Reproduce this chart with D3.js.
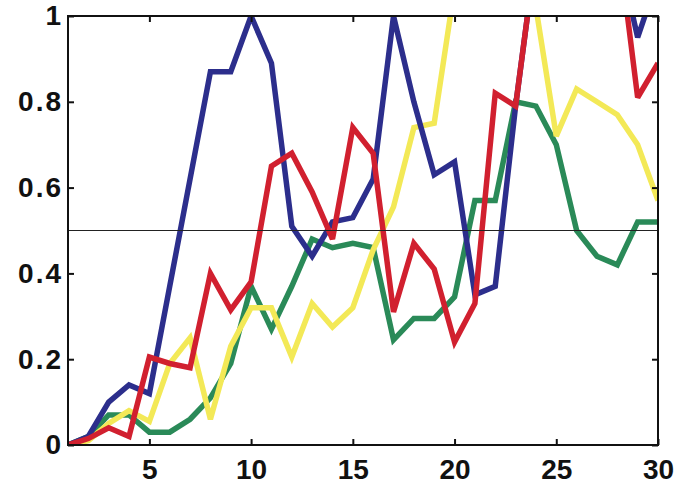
<!DOCTYPE html>
<html>
<head>
<meta charset="utf-8">
<script src="https://cdn.jsdelivr.net/npm/d3@7"></script>
<style>
  body { margin: 0; background: #fff; }
  text { font-family: "Liberation Sans", Arial, sans-serif; font-weight: bold; }
</style>
</head>
<body>
<div id="chart"></div>
<script>
// data
const steps = [1, 2, 3, 4, 5, 6, 7, 8, 9, 10, 11, 12, 13, 14, 15, 16, 17, 18, 19, 20, 21, 22, 23, 24, 25, 26, 27, 28, 29, 30];
const blueVals = [0, 0.02, 0.10, 0.14, 0.12, 0.37, 0.62, 0.87, 0.87, 1.0, 0.89, 0.51, 0.44, 0.52, 0.53, 0.62, 1.0, 0.80, 0.63, 0.66, 0.35, 0.37, 0.79, 1.15, 1.25, 1.25, 1.2, 1.16, 0.95, 1.09];
const redVals = [0, 0.015, 0.04, 0.02, 0.205, 0.19, 0.18, 0.40, 0.315, 0.38, 0.65, 0.68, 0.59, 0.48, 0.74, 0.68, 0.31, 0.47, 0.41, 0.24, 0.33, 0.82, 0.79, 1.15, 1.25, 1.25, 1.2, 1.19, 0.81, 0.89];
const greenVals = [0, 0.02, 0.07, 0.07, 0.03, 0.03, 0.06, 0.11, 0.19, 0.37, 0.27, 0.37, 0.48, 0.46, 0.47, 0.46, 0.245, 0.295, 0.295, 0.345, 0.57, 0.57, 0.80, 0.79, 0.70, 0.50, 0.44, 0.42, 0.52, 0.52];
const yellowVals = [0, 0.01, 0.05, 0.08, 0.055, 0.19, 0.25, 0.06, 0.23, 0.32, 0.32, 0.205, 0.33, 0.275, 0.32, 0.455, 0.555, 0.74, 0.75, 1.065, 1.2, 1.2, 1.1, 1.02, 0.72, 0.83, 0.80, 0.77, 0.70, 0.57];

const xTicks = [5, 10, 15, 20, 25, 30];
const xLabels = ["5", "10", "15", "20", "25", "30"];
const yTicks = [0, 0.2, 0.4, 0.6, 0.8, 1];
const yLabels = ["0", "0.2", "0.4", "0.6", "0.8", "1"];
const refLevel = 0.5;

const series = [
  {name: "green", values: greenVals, color: "#2a8a58"},
  {name: "yellow", values: yellowVals, color: "#f3e957"},
  {name: "blue", values: blueVals, color: "#2c2e8c"},
  {name: "red", values: redVals, color: "#d1202f"}
];

// set the dimensions and margins of the graph
const margin = {top: 16, right: 36, bottom: 43, left: 68},
  width = 694 - margin.left - margin.right,
  height = 488 - margin.top - margin.bottom;

const svg = d3.select("#chart")
  .append("svg")
  .attr("width", width + margin.left + margin.right)
  .attr("height", height + margin.top + margin.bottom)
  .append("g")
  .attr("transform", `translate(${margin.left}, ${margin.top})`);

const x = d3.scaleLinear().domain([1, 30]).range([0, width]);
const y = d3.scaleLinear().domain([0, 1]).range([height, 0]);

svg.append("clipPath")
  .attr("id", "plot-clip")
  .append("rect")
  .attr("width", width)
  .attr("height", height);

// lines
const line = d3.line()
  .x((d, i) => x(steps[i]))
  .y(d => y(d));

svg.append("g")
  .attr("clip-path", "url(#plot-clip)")
  .selectAll("path")
  .data(series)
  .join("path")
    .attr("d", d => line(d.values))
    .attr("fill", "none")
    .attr("stroke", d => d.color)
    .attr("stroke-width", 5.5)
    .attr("stroke-linejoin", "miter")
    .attr("stroke-miterlimit", 3);

// reference line at 0.5
svg.append("line")
  .attr("x1", 0)
  .attr("x2", width)
  .attr("y1", y(refLevel))
  .attr("y2", y(refLevel))
  .attr("stroke", "#222")
  .attr("stroke-width", 1.2);

// axes
const yAxis = svg.append("g")
  .call(d3.axisLeft(y).tickValues(yTicks).tickFormat((d, i) => yLabels[i])
    .tickSizeInner(-6).tickSizeOuter(0).tickPadding(5));
yAxis.selectAll("text")
  .style("font-size", "28px")
  .style("letter-spacing", "2px")
  .attr("fill", "#111");

const xAxis = svg.append("g")
  .attr("transform", `translate(0, ${height})`)
  .call(d3.axisBottom(x).tickValues(xTicks).tickFormat((d, i) => xLabels[i])
    .tickSizeInner(-6).tickSizeOuter(0).tickPadding(14));
xAxis.selectAll("text").style("font-size", "28px").attr("fill", "#111");

svg.append("g")
  .attr("transform", `translate(${width}, 0)`)
  .call(d3.axisRight(y).tickValues(yTicks).tickFormat("").tickSizeInner(-6).tickSizeOuter(0));

svg.append("g")
  .call(d3.axisTop(x).tickValues(xTicks).tickFormat("").tickSizeInner(-6).tickSizeOuter(0));

svg.selectAll(".domain").remove();
svg.selectAll(".tick line").attr("stroke", "#111").attr("stroke-width", 2);

// frame
svg.append("rect")
  .attr("width", width)
  .attr("height", height)
  .attr("fill", "none")
  .attr("stroke", "#111")
  .attr("stroke-width", 2);
</script>
</body>
</html>
